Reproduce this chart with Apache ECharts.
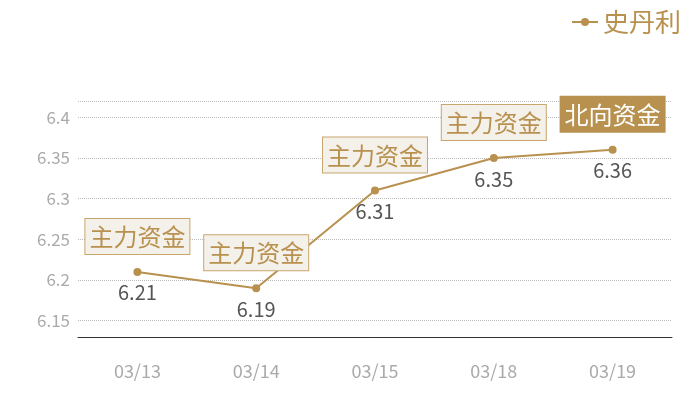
<!DOCTYPE html>
<html>
<head>
<meta charset="utf-8">
<script src="https://cdn.jsdelivr.net/npm/echarts@6/dist/echarts.min.js"></script>
<style>
  html,body{margin:0;padding:0;background:#fff;}
  #chart{width:700px;height:400px;}
</style>
</head>
<body>
<div id="chart"></div>
<script>
// data
var dates = ['03/13', '03/14', '03/15', '03/18', '03/19']
var prices = [6.21, 6.19, 6.31, 6.35, 6.36]
var tags = ['主力资金', '主力资金', '主力资金', '主力资金', '北向资金']
var stockName = '史丹利'

var gold = '#b8914f'
var font = '"Noto Sans CJK SC", "Noto Sans", sans-serif'

var tagData = []
for (var i = 0; i < prices.length; i++) {
  var north = tags[i] == '北向资金'
  tagData.push({
    value: prices[i],
    label: {
      formatter: tags[i],
      color: north ? '#fff' : gold,
      backgroundColor: north ? gold : '#f4f0ea',
      borderColor: north ? gold : '#c9a66f',
      borderWidth: 1
    }
  })
}

var myChart = echarts.init(document.getElementById('chart'))
myChart.setOption({
  textStyle: { fontFamily: font },
  legend: {
    data: [stockName],
    right: 14,
    top: 4,
    itemWidth: 26,
    itemHeight: 10,
    itemGap: 6,
    textStyle: { color: gold, fontSize: 26, fontFamily: font }
  },
  grid: { left: 78, right: 28, top: 101, bottom: 63 },
  xAxis: {
    type: 'category',
    boundaryGap: true,
    data: dates,
    axisTick: { show: false },
    axisLine: { lineStyle: { color: '#333' } },
    axisLabel: { color: '#aaa', fontSize: 18, margin: 25, fontFamily: font }
  },
  yAxis: {
    type: 'value',
    min: 6.13,
    max: 6.42,
    axisLine: { show: false },
    axisTick: { show: false },
    axisLabel: { color: '#aaa', fontSize: 17, margin: 8, showMinLabel: false, showMaxLabel: false, fontFamily: font },
    splitLine: { lineStyle: { color: '#bbb', type: 'dotted' } }
  },
  series: [
    {
      name: 'tag',
      type: 'line',
      data: tagData,
      symbol: 'circle',
      symbolSize: 2,
      itemStyle: { color: 'rgba(0,0,0,0)' },
      lineStyle: { width: 0, color: 'rgba(0,0,0,0)' },
      silent: true,
      label: {
        show: true,
        position: 'top',
        distance: 17,
        fontSize: 24,
        padding: [6, 4, 5, 4],
        fontFamily: font
      },
      z: 4
    },
    {
      name: stockName,
      type: 'line',
      data: prices,
      color: gold,
      symbol: 'circle',
      symbolSize: 8,
      lineStyle: { width: 2, color: gold },
      label: {
        show: true,
        position: 'bottom',
        distance: 7,
        color: '#555',
        fontSize: 20,
        fontFamily: font
      },
      z: 3
    }
  ]
})
</script>
</body>
</html>
